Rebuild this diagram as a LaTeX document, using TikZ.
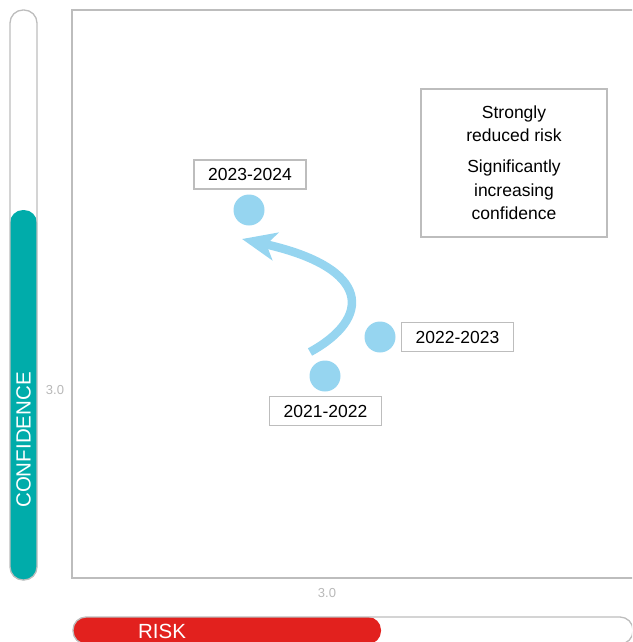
\documentclass[tikz,border=0pt]{standalone}
\usepackage{fontspec}
\setmainfont{Liberation Sans}
\usetikzlibrary{arrows.meta}
\definecolor{frame}{HTML}{BDBDBD}
\definecolor{teal2}{HTML}{00ACAA}
\definecolor{red2}{HTML}{E2211E}
\definecolor{dot}{HTML}{96D5F0}
\definecolor{tick}{HTML}{B8B8B8}
\tikzset{
  lbl/.style={draw=frame, line width=1.2pt, fill=white, minimum width=112pt, minimum height=29pt, inner sep=0pt, font=\fontsize{17.5}{20}\selectfont},
  dotn/.style={circle, fill=dot, minimum size=31pt, inner sep=0pt},
  bartxt/.style={text=white, font=\fontsize{20.5}{24}\selectfont},
  ticktxt/.style={text=tick, font=\fontsize{13}{15}\selectfont},
  boxtxt/.style={align=center, font=\fontsize{17.5}{23.5}\selectfont}
}
\begin{document}
\begin{tikzpicture}[x=1pt,y=-1pt]
\useasboundingbox (0,0) rectangle (632,642);
\clip (0,0) rectangle (632,642);
% confidence bar
\fill[teal2, rounded corners=13pt] (10,210) rectangle (37,580);
\draw[frame, line width=1.3pt, rounded corners=13pt] (10,10) rectangle (37,580);
\node[bartxt, rotate=90] (conf) at (23.5,440) {CONFIDENCE};
\node[ticktxt] (ty) at (55,390) {3.0};
% plot frame
\draw[frame, line width=1.8pt] (72,10) rectangle (660,578);
\node[ticktxt] (tx) at (327,593) {3.0};
% risk bar
\fill[red2, rounded corners=13pt] (73,617) rectangle (381,644);
\draw[frame, line width=1.3pt, rounded corners=13pt] (73,617) rectangle (633,644);
\node[bartxt] (risk) at (162,631) {RISK};
% legend box
\node[draw=frame, line width=2pt, minimum width=186pt, minimum height=148pt, inner sep=0pt] (box) at (514,163) {};
\node[boxtxt] (b1) at (514,123.5) {Strongly\\reduced risk};
\node[boxtxt] (b2) at (514,190) {Significantly\\increasing\\confidence};
% dots and labels
\node[dotn] (d1) at (325,376) {};
\node[dotn] (d2) at (380,337) {};
\node[dotn] (d3) at (249,210) {};
\node[lbl] (l1) at (325.5,411) {2021-2022};
\node[lbl] (l2) at (457.5,337) {2022-2023};
\node[lbl] (l3) at (250,174.5) {2023-2024};
% arrow
\coordinate (s) at (310,352);
\coordinate (e) at (242,239);
\draw[dot, line width=8.5pt, -{Stealth[length=34pt, width=28pt, inset=9pt]}] (s) .. controls (372,318) and (372,268) .. (e);
\end{tikzpicture}
\end{document}
